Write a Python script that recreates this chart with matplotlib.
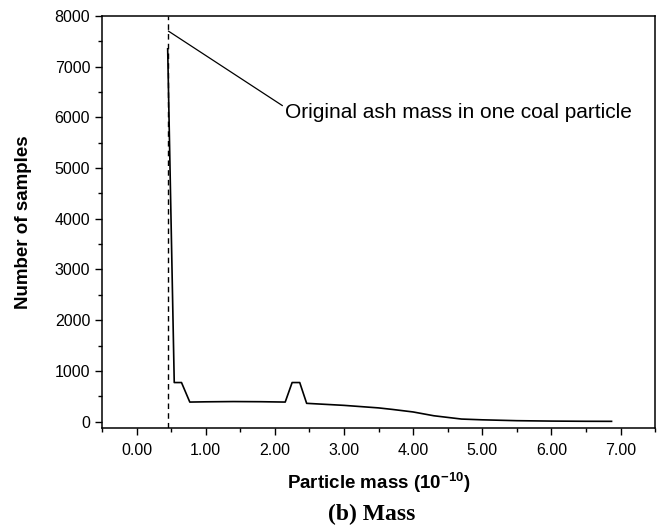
import numpy as np
import matplotlib.pyplot as plt
from matplotlib.ticker import MultipleLocator, FormatStrFormatter

# particle mass (1e-10) and sample counts
mass = [0.45, 0.545, 0.65, 0.77, 1.0, 1.4, 1.8, 2.15, 2.25, 2.36, 2.46,
        3.0, 3.5, 3.7, 4.0, 4.3, 4.7, 5.0, 5.5, 6.0, 6.5, 6.87]
count = [7350, 770, 770, 385, 390, 395, 392, 385, 770, 770, 360,
         320, 270, 240, 190, 115, 50, 35, 18, 10, 6, 5]

ash_mass = 0.46  # original ash mass in one coal particle

plt.rcParams['font.family'] = ['Liberation Sans', 'DejaVu Sans']
plt.rcParams['mathtext.fontset'] = 'custom'
plt.rcParams['mathtext.bf'] = 'Liberation Sans:bold'
plt.rcParams['mathtext.rm'] = 'Liberation Sans'
plt.rcParams['mathtext.default'] = 'bf'

fig = plt.figure(figsize=(6.64, 5.28), dpi=100)
ax = fig.add_axes([0.1536, 0.19, 0.833, 0.78])

ax.plot(mass, count, color='black', linewidth=1.2)
ax.axvline(ash_mass, color='black', linestyle=(0, (4, 3)), linewidth=1.0)

ax.annotate('Original ash mass in one coal particle',
            xy=(ash_mass, 7700), xytext=(2.15, 6100),
            fontsize=15, va='center', ha='left',
            arrowprops=dict(arrowstyle='-', color='black', lw=0.9,
                            shrinkA=0, shrinkB=0, relpos=(0, 0.75)))

ax.set_xlim(-0.5, 7.5)
ax.set_ylim(-120, 8000)
ax.xaxis.set_major_locator(MultipleLocator(1))
ax.xaxis.set_minor_locator(MultipleLocator(0.5))
ax.yaxis.set_major_locator(MultipleLocator(1000))
ax.yaxis.set_minor_locator(MultipleLocator(500))
ax.xaxis.set_major_formatter(FormatStrFormatter('%.2f'))

ax.tick_params(which='major', direction='out', length=5, width=1, labelsize=11.5)
ax.tick_params(axis='x', which='major', pad=6)
ax.tick_params(which='minor', direction='out', length=3, width=1)
for s in ax.spines.values():
    s.set_linewidth(1.1)

ax.set_xlabel('Particle mass (10$^{-10}$)', fontsize=13.5, fontweight='bold', labelpad=9)
ax.set_ylabel('Number of samples', fontsize=13.5, fontweight='bold', labelpad=16)

fig.text(0.56, 0.025, '(b) Mass', ha='center', va='center',
         fontsize=17, fontweight='bold', family='Liberation Serif')

fig.savefig('out.png', dpi=100)
